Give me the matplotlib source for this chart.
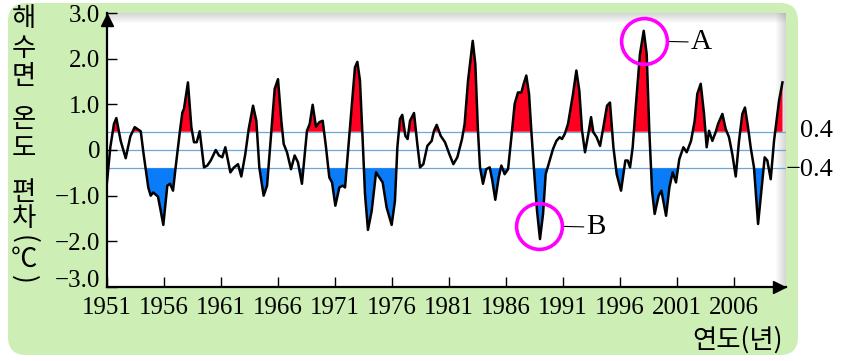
import matplotlib
matplotlib.use("Agg")
import matplotlib.pyplot as plt
from matplotlib.patches import FancyBboxPatch, Rectangle
from matplotlib.transforms import ScaledTranslation
import numpy as np

plt.rcParams['font.family'] = ['Liberation Serif', 'Noto Sans CJK KR', 'DejaVu Sans']

# sea surface temperature anomaly
years = [1951.00, 1951.29, 1951.61, 1951.82, 1952.20, 1952.64, 1953.05, 1953.43, 1953.66, 1953.96,
         1954.19, 1954.40, 1954.62, 1954.83, 1955.06, 1955.47, 1955.65, 1955.94, 1956.29, 1956.53,
         1956.79, 1957.02, 1957.40, 1957.61, 1957.75, 1958.10, 1958.40, 1958.63, 1958.87, 1959.13,
         1959.51, 1959.80, 1960.10, 1960.54, 1960.82, 1961.11, 1961.38, 1961.82, 1962.11, 1962.49,
         1962.78, 1963.13, 1963.43, 1963.81, 1964.10, 1964.36, 1964.74, 1965.04, 1965.42, 1965.71,
         1966.00, 1966.29, 1966.50, 1966.79, 1967.14, 1967.46, 1967.75, 1968.10, 1968.54, 1968.78,
         1969.04, 1969.33, 1969.63, 1969.92, 1970.21, 1970.50, 1970.74, 1971.03, 1971.38, 1971.67,
         1971.88, 1972.17, 1972.46, 1972.75, 1972.96, 1973.19, 1973.43, 1973.63, 1973.89, 1974.22,
         1974.60, 1974.89, 1975.18, 1975.53, 1975.97, 1976.26, 1976.47, 1976.70, 1976.90, 1977.17,
         1977.37, 1977.58, 1977.93, 1978.22, 1978.46, 1978.75, 1979.10, 1979.48, 1979.68, 1979.92,
         1980.27, 1980.65, 1981.03, 1981.38, 1981.73, 1982.14, 1982.37, 1982.67, 1983.08, 1983.31,
         1983.54, 1983.72, 1983.98, 1984.27, 1984.57, 1984.80, 1985.06, 1985.36, 1985.59, 1985.88,
         1986.18, 1986.47, 1986.76, 1987.05, 1987.35, 1987.55, 1987.78, 1988.02, 1988.22, 1988.46,
         1988.72, 1988.98, 1989.25, 1989.48, 1989.83, 1990.12, 1990.42, 1990.71, 1990.91, 1991.15,
         1991.44, 1991.88, 1992.17, 1992.43, 1992.67, 1992.93, 1993.22, 1993.46, 1993.66, 1993.95,
         1994.25, 1994.54, 1994.86, 1995.12, 1995.42, 1995.71, 1996.09, 1996.47, 1996.67, 1996.88,
         1997.11, 1997.40, 1997.75, 1998.08, 1998.34, 1998.57, 1998.81, 1999.04, 1999.39, 1999.63,
         2000.04, 2000.33, 2000.62, 2000.91, 2001.20, 2001.56, 2001.85, 2002.23, 2002.55, 2002.78,
         2003.08, 2003.37, 2003.60, 2003.81, 2004.10, 2004.39, 2004.60, 2004.98, 2005.27, 2005.56,
         2005.85, 2006.15, 2006.44, 2006.73, 2006.96, 2007.23, 2007.46, 2007.75, 2008.11, 2008.43,
         2008.69, 2008.92, 2009.22, 2009.51, 2009.95, 2010.25]
anomaly = [-0.70, 0.06, 0.57, 0.70, 0.20, -0.18, 0.30, 0.50, 0.46, 0.41,
           -0.05, -0.42, -0.82, -1.00, -0.93, -1.02, -1.25, -1.64, -0.78, -0.74,
           -0.89, -0.38, 0.42, 0.82, 0.90, 1.48, 0.50, 0.17, 0.17, 0.41,
           -0.38, -0.34, -0.23, 0.00, -0.12, -0.16, 0.06, -0.49, -0.39, -0.31,
           -0.58, -0.09, 0.46, 0.97, 0.64, -0.38, -1.00, -0.78, 0.42, 1.34,
           1.55, 0.64, 0.13, -0.05, -0.42, -0.12, -0.27, -0.74, 0.42, 0.57,
           0.99, 0.51, 0.61, 0.64, 0.06, -0.60, -0.71, -1.22, -0.82, -0.78,
           -0.82, 0.06, 0.93, 1.81, 1.93, 1.52, 0.20, -0.96, -1.75, -1.33,
           -0.49, -0.60, -0.71, -1.26, -1.64, -1.11, 0.06, 0.68, 0.77, 0.31,
           0.24, 0.64, 0.81, 0.13, -0.38, -0.31, 0.09, 0.20, 0.42, 0.55,
           0.31, 0.17, -0.09, -0.31, -0.16, 0.24, 0.57, 1.52, 2.39, 1.88,
           0.42, -0.38, -0.74, -0.42, -0.38, -0.67, -1.09, -0.60, -0.34, -0.53,
           -0.42, 0.28, 1.01, 1.26, 1.26, 1.45, 1.63, 1.23, 0.42, -0.45,
           -1.33, -1.95, -1.40, -0.53, -0.23, 0.02, 0.20, 0.28, 0.24, 0.35,
           0.57, 1.23, 1.74, 1.30, 0.42, -0.05, 0.35, 0.72, 0.39, 0.28,
           0.09, 0.50, 0.97, 1.04, 0.06, -0.53, -0.89, -0.23, -0.23, -0.38,
           0.06, 1.01, 2.10, 2.61, 2.10, 0.42, -0.89, -1.40, -1.00, -0.89,
           -1.44, -0.82, -0.49, -0.71, -0.20, 0.06, -0.05, 0.20, 0.64, 1.23,
           1.45, 0.79, 0.06, 0.42, 0.20, 0.39, 0.57, 0.79, 0.46, 0.28,
           -0.09, -0.58, 0.20, 0.79, 0.93, 0.50, 0.06, -0.38, -1.62, -0.82,
           -0.16, -0.23, -0.64, 0.20, 1.08, 1.48]

threshold = 0.4
tick_years = [1951, 1956, 1961, 1966, 1971, 1976, 1981, 1986, 1991, 1996, 2001, 2006]
y_ticks = [3, 2, 1, 0, -1, -2, -3]
y_tick_labels = ['3.0', '2.0', '1.0', '0', '\u22121.0', '\u22122.0', '\u22123.0']

mark_labels = ['A', 'B']
mark_years = [1998.08, 1988.92]
mark_values = [2.39, -1.66]

ylabel_chars = ['해', '수', '면', '온', '도', '편', '차', '(', '℃', ')']
ylabel_pos = [18, 49, 77, 120, 148, 192, 218, 239, 259, 279]

W, H = 843, 361
fig = plt.figure(figsize=(W / 100, H / 100), dpi=100)

# green panel in pixel coordinates
bg = fig.add_axes([0, 0, 1, 1])
bg.set_xlim(0, W)
bg.set_ylim(H, 0)
bg.axis('off')
bg.add_patch(FancyBboxPatch((8, 3), 790, 352, boxstyle='round,pad=0,rounding_size=18',
                            fc='#cdefb6', ec='none'))

ax = fig.add_axes([107 / W, 1 - 287 / H, 679 / W, 274 / H], zorder=2)
ax.set_facecolor('white')

x = np.array(years)
v = np.array(anomaly)

# inner shadow on the top and right edges of the plot box
for i in range(10):
    a = 0.30 * (1 - i / 10)
    ax.add_patch(Rectangle((0, 1 - (i + 1) / 274), 1, 1 / 274, transform=ax.transAxes,
                           fc='#777777', ec='none', alpha=a, zorder=0.5))
    ax.add_patch(Rectangle((1 - (i + 1) / 679, 0), 1 / 679, 1, transform=ax.transAxes,
                           fc='#777777', ec='none', alpha=a, zorder=0.5))

for h in [threshold, 0, -threshold]:
    ax.axhline(h, color='#6ea6d8', lw=0.9, zorder=1)

ax.fill_between(x, threshold, v, where=v > threshold, interpolate=True,
                color='#ff0020', lw=0, zorder=2)
ax.fill_between(x, -threshold, v, where=v < -threshold, interpolate=True,
                color='#0a7cf8', lw=0, zorder=2)
ax.plot(x, v, color='black', lw=1.8, solid_joinstyle='round', zorder=3)

for lab, mx, my in zip(mark_labels, mark_years, mark_values):
    ax.plot(mx, my, 'o', ms=33, mfc='none', mec='#ff00ff', mew=2.6, zorder=5, clip_on=False)
    ax.annotate(lab, xy=(mx, my), xytext=(34, -1), textcoords='offset points',
                ha='left', va='center', fontsize=21, family='Liberation Serif',
                arrowprops=dict(arrowstyle='-', color='black', lw=0.8,
                                shrinkA=0, shrinkB=18))

ax.set_xlim(1951, 2010.56)
ax.set_ylim(-3, 3)
ax.set_xticks(tick_years)
ax.set_xticklabels([str(t) for t in tick_years])
ax.set_yticks(y_ticks)
ax.set_yticklabels(y_tick_labels)
ax.tick_params(axis='both', direction='in', length=7, width=1, labelsize=18, colors='black')
ax.tick_params(axis='x', pad=7)
ax.tick_params(axis='y', pad=5)
for s in ['top', 'right']:
    ax.spines[s].set_visible(False)
for s in ['left', 'bottom']:
    ax.spines[s].set_linewidth(1.6)

# the lowest y label sits a little above its tick, as in the reference
low = ax.get_yticklabels()[-1]
low.set_transform(low.get_transform() + ScaledTranslation(0, 6 / 72, fig.dpi_scale_trans))

# axis arrows
ax.plot(0, 0.975, marker='^', ms=9, color='black', transform=ax.transAxes, clip_on=False, zorder=6)
ax.plot(0.99, 0, marker='>', ms=9, color='black', transform=ax.transAxes, clip_on=False, zorder=6)

# vertical y label
for ch, py in zip(ylabel_chars, ylabel_pos):
    rot = -90 if ch in '()' else 0
    fig.text(24 / W, 1 - py / H, ch, ha='center', va='center', fontsize=19, rotation=rot,
             family=['Noto Sans CJK KR', 'DejaVu Sans'])

fig.text(783 / W, 1 - 340 / H, '연도(년)', ha='right', va='center', fontsize=19,
         family=['Noto Sans CJK KR', 'DejaVu Sans'])

# threshold labels at right
fig.text(833 / W, 1 - 131 / H, '0.4', ha='right', va='center', fontsize=19)
fig.text(833 / W, 1 - 170 / H, '\u22120.4', ha='right', va='center', fontsize=19)

fig.savefig('out.png', dpi=100)
